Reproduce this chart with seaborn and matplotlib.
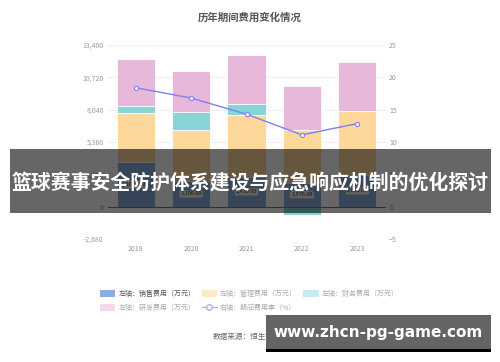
import numpy as np
import pandas as pd
import matplotlib
matplotlib.use("Agg")
import matplotlib.pyplot as plt
from matplotlib.patches import Patch, Rectangle
from matplotlib.lines import Line2D
import seaborn as sns

# Data
years = ["2019", "2020", "2021", "2022", "2023"]
sales = [3680.0, 2100.0, 2450.0, 1976.08, 2600.0]      # 销售费用
admin = [4094.0, 4263.0, 5183.0, 4414.0, 5365.0]       # 管理费用
finance = [548.0, 1520.0, 887.0, -722.0, -80.0]        # 财务费用
rnd = [3958.0, 3377.0, 4090.0, 3650.0, 4005.0]         # 研发费用
rate = [18.4, 16.8, 14.3, 11.1, 12.85]                 # 期间费用率 (%)

left_ticks = [-2680, 0, 2680, 5360, 8040, 10720, 13400]
right_ticks = [-5, 0, 5, 10, 15, 20, 25]

c_sales, c_admin, c_fin, c_rnd = "#8aaee0", "#fdd89a", "#88d5d8", "#e7b8d9"
c_line = "#7f7ff2"

sns.set_style("white")
plt.rcParams["font.family"] = ["Noto Sans CJK SC", "DejaVu Sans"]

df = pd.DataFrame({"year": years, "sales": sales, "admin": admin,
                   "finance": finance, "rnd": rnd, "rate": rate})
pos_fin = df["finance"].clip(lower=0)
df["lvl_admin"] = df["sales"] + df["admin"]
df["lvl_fin"] = np.where(df["finance"] > 0, df["lvl_admin"] + pos_fin, df["finance"])
df["lvl_rnd"] = df["lvl_admin"] + pos_fin + df["rnd"]

fig = plt.figure(figsize=(5, 3.62), dpi=100)
ax = fig.add_axes([0.216, 0.3398, 0.554, 0.5359])

bar_kw = dict(width=0.69, edgecolor="white", linewidth=0.6, ax=ax)
sns.barplot(data=df, x="year", y="lvl_rnd", color=c_rnd, saturation=1, **bar_kw)
sns.barplot(data=df, x="year", y="lvl_fin", color=c_fin, saturation=1, **bar_kw)
sns.barplot(data=df, x="year", y="lvl_admin", color=c_admin, saturation=1, **bar_kw)
sns.barplot(data=df, x="year", y="sales", color=c_sales, saturation=1, **bar_kw)

for i, v in enumerate(sales):
    ax.text(i, v / 2, f"{v:,.2f}", ha="center", va="center", fontsize=4,
            color="#333333", zorder=5,
            bbox=dict(boxstyle="round,pad=0.25", fc="#f2f2f2", ec="#aaaaaa", lw=0.4))

ax.set_ylim(-2680, 13400)
ax.set_yticks(left_ticks)
ax.set_yticklabels([f"{t:,}" for t in left_ticks])
ax.set_xlim(-0.5, 4.5)
ax.grid(axis="y", color="#eeeef8", linewidth=0.8)
ax.set_axisbelow(True)
for s in ["top", "right", "left"]:
    ax.spines[s].set_visible(False)
ax.spines["bottom"].set_position(("data", 0))
ax.spines["bottom"].set_color("#777777")
ax.spines["bottom"].set_linewidth(0.7)
ax.tick_params(axis="y", length=0, pad=3, labelsize=5, labelcolor="#9a9a9a")
ax.tick_params(axis="x", length=2.5, width=0.6, color="#777777", pad=25,
               labelsize=5, labelcolor="#9a9a9a")
ax.set_xlabel("")
ax.set_ylabel("")

ax2 = ax.twinx()
sns.lineplot(x=np.arange(len(years)), y=rate, ax=ax2, color=c_line, linewidth=1,
             marker="o", markersize=3, markerfacecolor="white",
             markeredgecolor=c_line, markeredgewidth=0.8)
ax2.set_ylim(-5, 25)
ax2.set_yticks(right_ticks)
ax2.tick_params(axis="y", length=0, pad=3, labelsize=5, labelcolor="#9a9a9a")
for s in ax2.spines.values():
    s.set_visible(False)
ax2.grid(False)

fig.text(0.5, 1 - 18 / 362, "历年期间费用变化情况", ha="center", va="center",
         fontsize=7.5, fontweight="bold", color="#555555")

handles = [
    Patch(facecolor="#8aaee0", edgecolor="none"),
    Patch(facecolor="#f4d8ec", edgecolor="none"),
    Patch(facecolor="#ffe8c4", edgecolor="none"),
    Line2D([0], [0], color="#b0b0ff", lw=1, marker="o", markersize=4,
           markerfacecolor="white", markeredgecolor="#b0b0ff"),
    Patch(facecolor="#c4ecee", edgecolor="none"),
]
labels = ["左轴：销售费用（万元）", "左轴：研发费用（万元）", "左轴：管理费用（万元）",
          "右轴：期间费用率（%）", "左轴：财务费用（万元）"]
leg = fig.legend(handles, labels, ncol=3, loc="upper left",
                 bbox_to_anchor=(100 / 500, 1 - 290 / 362), frameon=False,
                 fontsize=5, handlelength=2.2, handleheight=1.1,
                 handletextpad=0.45, columnspacing=0.9, labelspacing=0.85,
                 borderpad=0, borderaxespad=0)
for i, t in enumerate(leg.get_texts()):
    t.set_color("#555555" if i == 0 else "#aaaaaa")

fig.text(213 / 500, 1 - 337 / 362, "数据来源：恒生聚源", ha="left", va="center",
         fontsize=5.5, color="#666666")

# overlay banner across the chart
fig.patches.append(Rectangle((10 / 500, 1 - 213 / 362), 481 / 500, 64 / 362,
                             transform=fig.transFigure, facecolor="black",
                             alpha=0.6, edgecolor="none", zorder=10))
fig.text(250.5 / 500, 1 - 182 / 362, "篮球赛事安全防护体系建设与应急响应机制的优化探讨",
         ha="center", va="center", fontsize=14.3, fontweight="bold",
         color="white", zorder=11)

# watermark box
fig.patches.append(Rectangle((266 / 500, 1 - 349 / 362), 225 / 500, 34 / 362,
                             transform=fig.transFigure, facecolor="#646464",
                             edgecolor="none", zorder=10))
fig.patches.append(Rectangle((266 / 500, 1 - 352 / 362), 225 / 500, 3 / 362,
                             transform=fig.transFigure, facecolor="black",
                             edgecolor="none", zorder=10))
fig.text(378 / 500, 1 - 333 / 362, "www.zhcn-pg-game.com", ha="center",
         va="center", fontsize=11, fontweight="bold", color="white",
         family="DejaVu Sans", zorder=11)

fig.savefig("out.png", dpi=100)
